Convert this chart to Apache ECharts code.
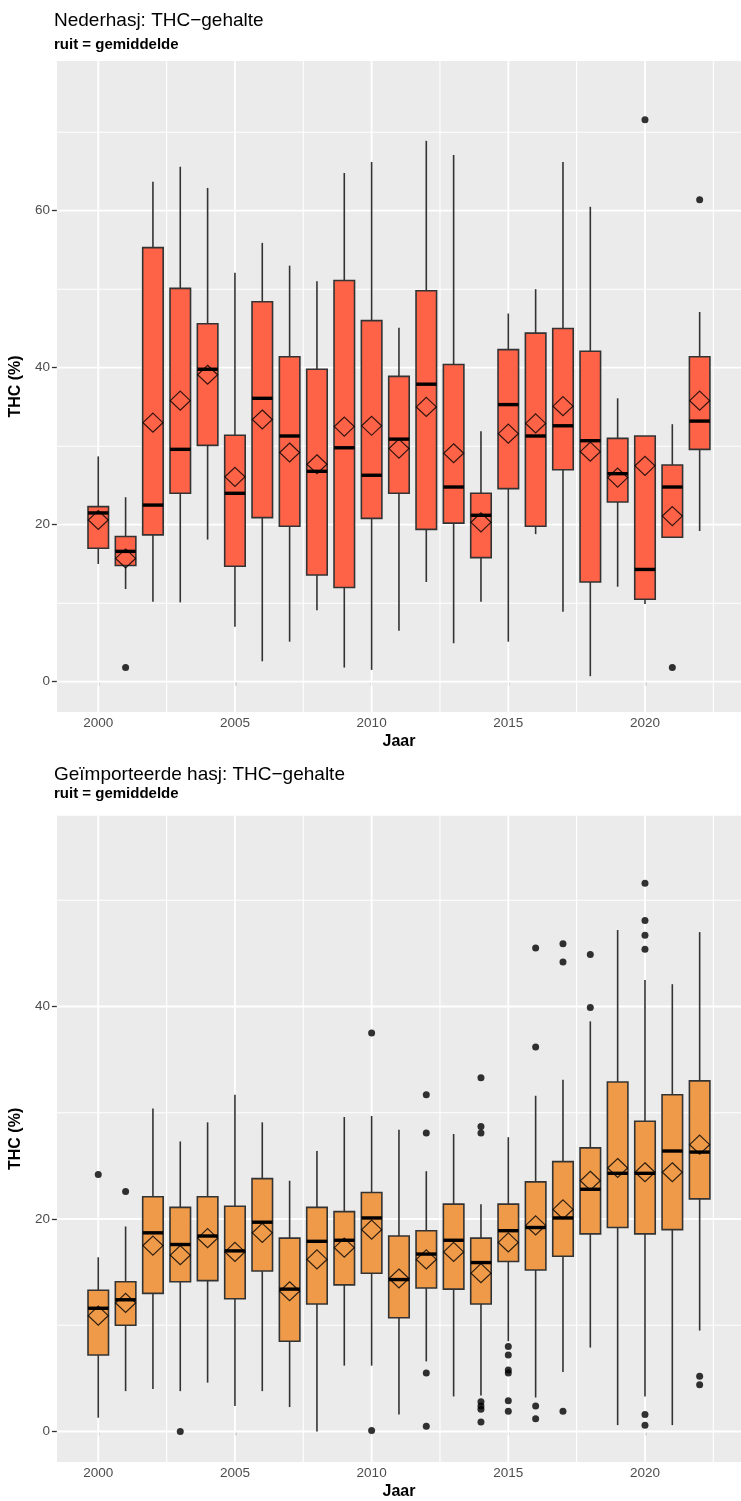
<!DOCTYPE html>
<html>
<head>
<meta charset="utf-8">
<script src="https://cdn.jsdelivr.net/npm/echarts@6/dist/echarts.min.js"></script>
<style>
html,body{margin:0;padding:0;background:#fff;}
#chart{width:741px;height:1501px;}
</style>
</head>
<body>
<div id="chart"></div>
<script>
// ---------- DATA ----------
const years = [2000,2001,2002,2003,2004,2005,2006,2007,2008,2009,2010,2011,2012,2013,2014,2015,2016,2017,2018,2019,2020,2021,2022];

// Nederhasj
const nlWhiskerLow  = [15.0,11.8,10.2,10.1,18.1, 7.0, 2.6, 5.1, 9.1, 1.8, 1.5, 6.5,12.7, 4.9,10.2, 5.1,18.8, 8.9, 0.7,12.1, 9.9,18.4,19.2];
const nlQ1          = [17.0,14.8,18.7,24.0,30.1,14.7,20.9,19.8,13.6,12.0,20.8,24.0,19.4,20.2,15.8,24.6,19.8,27.0,12.7,22.9,10.5,18.4,29.6];
const nlMedian      = [21.5,16.6,22.5,29.6,39.8,24.0,36.1,31.3,26.8,29.8,26.3,30.9,37.9,24.8,21.2,35.3,31.3,32.6,30.7,26.5,14.3,24.8,33.2];
const nlQ3          = [22.3,18.5,55.3,50.1,45.6,31.4,48.4,41.4,39.8,51.1,46.0,38.9,49.8,40.4,24.0,42.3,44.4,45.0,42.1,31.0,31.3,27.6,41.4];
const nlWhiskerHigh = [28.7,23.5,63.7,65.6,62.9,52.1,55.9,53.0,51.0,64.8,66.2,45.1,68.9,67.1,31.9,46.9,50.0,66.2,60.5,36.1,31.3,32.8,47.1];
const nlMean        = [20.6,15.7,33.0,35.8,39.1,26.1,33.4,29.2,27.7,32.5,32.6,29.7,35.0,29.1,20.3,31.6,32.9,35.1,29.3,26.0,27.5,21.1,35.8];
const nlOutliers    = [[2001,1.8],[2020,71.6],[2021,1.8],[2022,61.4]];

// Geïmporteerde hasj
const imWhiskerLow  = [ 1.3, 3.8, 4.0, 3.8, 4.6, 2.4, 3.8, 2.3, 0.0, 6.2, 6.2, 1.6, 6.6, 3.3, 3.4, 8.5, 3.2, 5.6, 7.9, 0.6, 3.3, 0.6, 9.5];
const imQ1          = [ 7.2,10.0,13.0,14.1,14.2,12.5,15.1, 8.5,12.0,13.8,14.9,10.7,13.5,13.4,12.0,16.0,15.2,16.5,18.6,19.2,18.6,19.0,21.9];
const imMedian      = [11.6,12.4,18.7,17.6,18.4,17.0,19.7,13.4,17.9,18.0,20.1,14.3,16.7,18.0,15.9,18.9,19.2,20.1,22.8,24.3,24.3,26.4,26.3];
const imQ3          = [13.3,14.1,22.1,21.1,22.1,21.2,23.8,18.2,21.1,20.7,22.5,18.4,18.9,21.4,18.2,21.4,23.5,25.4,26.7,32.9,29.2,31.7,33.0];
const imWhiskerHigh = [16.4,19.3,30.4,27.3,29.1,31.7,29.1,23.6,26.4,29.6,29.7,28.4,24.5,28.0,21.4,27.7,31.6,33.1,38.6,47.2,42.5,42.1,47.0];
const imMean        = [10.9,12.1,17.5,16.6,18.2,16.9,18.7,13.2,16.2,17.3,19.0,14.4,16.2,16.9,14.9,17.8,19.4,20.9,23.6,24.8,24.4,24.4,27.0];
const imOutliers    = [
  [2000,24.2],[2001,22.6],[2003,0.0],[2010,37.5],[2010,0.1],
  [2012,31.7],[2012,28.1],[2012,5.5],[2012,0.5],
  [2014,33.3],[2014,28.7],[2014,28.1],[2014,2.8],[2014,2.4],[2014,2.1],[2014,0.9],
  [2015,8.0],[2015,7.2],[2015,5.8],[2015,5.5],[2015,2.9],[2015,1.9],
  [2016,45.5],[2016,36.2],[2016,2.4],[2016,1.2],
  [2017,45.9],[2017,44.2],[2017,1.9],
  [2018,44.9],[2018,39.9],
  [2020,51.6],[2020,48.1],[2020,46.7],[2020,45.4],[2020,1.6],[2020,0.6],
  [2022,5.2],[2022,4.4]
];

// tick labels / grid lines
const xMajorTicks = [2000,2005,2010,2015,2020];
const xMinorTicks = [2002.5,2007.5,2012.5,2017.5,2022.5];
const nlYMajorTicks = [0,20,40,60];
const nlYMinorTicks = [10,30,50,70];
const imYMajorTicks = [0,20,40];
const imYMinorTicks = [10,30,50];

// ---------- STYLE ----------
const FONT = '"Liberation Sans", Arial, sans-serif';
const BOX_W = 0.75;
const X_MIN = 1998.4875, X_MAX = 2023.5125;
const LINE_COL = '#333333';

function rows(lo,q1,md,q3,hi){ return years.map((y,i)=>[y,lo[i],q1[i],md[i],q3[i],hi[i]]); }

function boxRenderer(fill){
  return function(params, api){
    const x = api.value(0);
    const lo = api.value(1), q1 = api.value(2), md = api.value(3), q3 = api.value(4), hi = api.value(5);
    const c = api.coord([x, hi]);
    const cx = c[0];
    const yHi = c[1], yLo = api.coord([x, lo])[1];
    const tl = api.coord([x - BOX_W/2, q3]);
    const br = api.coord([x + BOX_W/2, q1]);
    const yMd = api.coord([x, md])[1];
    return {type:'group', children:[
      {type:'line', shape:{x1:cx,y1:yHi,x2:cx,y2:tl[1]}, style:{stroke:LINE_COL,lineWidth:1.6}},
      {type:'line', shape:{x1:cx,y1:br[1],x2:cx,y2:yLo}, style:{stroke:LINE_COL,lineWidth:1.6}},
      {type:'rect', shape:{x:tl[0],y:tl[1],width:br[0]-tl[0],height:br[1]-tl[1]}, style:{fill:fill,stroke:LINE_COL,lineWidth:1.6}},
      {type:'line', shape:{x1:tl[0],y1:yMd,x2:br[0],y2:yMd}, style:{stroke:'#000000',lineWidth:3.4}}
    ]};
  };
}

function vGridRenderer(params, api){
  const cs = params.coordSys;
  const x = api.coord([api.value(0), 0])[0];
  const major = api.value(1) === 1;
  return {type:'line', shape:{x1:x,y1:cs.y,x2:x,y2:cs.y+cs.height}, style:{stroke:'#ffffff', lineWidth: major?1.8:1.1}};
}
function hGridRenderer(params, api){
  const cs = params.coordSys;
  const y = api.coord([X_MIN, api.value(1)])[1];
  const major = api.value(2) === 1;
  return {type:'line', shape:{x1:cs.x,y1:y,x2:cs.x+cs.width,y2:y}, style:{stroke:'#ffffff', lineWidth: major?1.8:1.1}};
}

function xAxisCfg(gi){
  return {
    gridIndex: gi, type:'value', min:X_MIN, max:X_MAX,
    splitLine:{show:false}, axisLine:{show:false},
    axisTick:{show:true, length:4, customValues:xMajorTicks, lineStyle:{color:LINE_COL, width:1.3}},
    axisLabel:{customValues:xMajorTicks, color:'#4D4D4D', fontSize:13.5, margin:4, fontFamily:FONT, formatter:v=>String(v)},
    name:'Jaar', nameLocation:'middle', nameGap:22,
    nameTextStyle:{fontSize:16, fontWeight:'bold', color:'#000', fontFamily:FONT}
  };
}
function yAxisCfg(gi, min, max, ticks){
  return {
    gridIndex: gi, type:'value', min:min, max:max,
    splitLine:{show:false}, axisLine:{show:false},
    axisTick:{show:true, length:5, customValues:ticks, lineStyle:{color:LINE_COL, width:1.3}},
    axisLabel:{customValues:ticks, color:'#4D4D4D', fontSize:13.5, margin:7, fontFamily:FONT, formatter:v=>String(v)},
    name:'THC (%)', nameLocation:'middle', nameGap:26, nameRotate:90,
    nameTextStyle:{fontSize:16, fontWeight:'bold', color:'#000', fontFamily:FONT}
  };
}

function panelSeries(gi, yMajor, yMinor, data, means, outliers, fill){
  const vData = xMajorTicks.map(v=>[v,1]).concat(xMinorTicks.map(v=>[v,0]));
  const hData = yMajor.map(v=>[X_MIN,v,1]).concat(yMinor.map(v=>[X_MIN,v,0]));
  return [
    {type:'custom', xAxisIndex:gi, yAxisIndex:gi, silent:true, z:1, renderItem:vGridRenderer, data:vData},
    {type:'custom', xAxisIndex:gi, yAxisIndex:gi, silent:true, z:1, renderItem:hGridRenderer, data:hData},
    {type:'custom', xAxisIndex:gi, yAxisIndex:gi, silent:true, z:2, renderItem:boxRenderer(fill),
      encode:{x:0, y:[1,2,3,4,5]}, data:data},
    {type:'scatter', xAxisIndex:gi, yAxisIndex:gi, silent:true, z:3, symbol:'circle', symbolSize:7,
      itemStyle:{color:'#000'}, data:outliers},
    {type:'scatter', xAxisIndex:gi, yAxisIndex:gi, silent:true, z:4, symbol:'diamond', symbolSize:[20,19],
      itemStyle:{color:'rgba(0,0,0,0)', borderColor:'#000', borderWidth:1.2},
      data: years.map((y,i)=>[y, means[i]])}
  ];
}

const chart = echarts.init(document.getElementById('chart'), null, {renderer:'canvas'});
chart.setOption({
  animation:false,
  backgroundColor:'#ffffff',
  textStyle:{fontFamily:FONT},
  graphic:[
    {type:'text', x:54, y:21, style:{text:'Nederhasj: THC\u2212gehalte', font:'19px ' + FONT, fill:'#000', align:'left', verticalAlign:'middle'}},
    {type:'text', x:54, y:45, style:{text:'ruit = gemiddelde', font:'bold 15px ' + FONT, fill:'#000', align:'left', verticalAlign:'middle'}},
    {type:'text', x:54, y:775, style:{text:'Geïmporteerde hasj: THC\u2212gehalte', font:'19px ' + FONT, fill:'#000', align:'left', verticalAlign:'middle'}},
    {type:'text', x:54, y:794, style:{text:'ruit = gemiddelde', font:'bold 15px ' + FONT, fill:'#000', align:'left', verticalAlign:'middle'}}
  ],
  grid:[
    {left:54, top:61, width:697, height:651, show:true, backgroundColor:'#EBEBEB', borderWidth:0},
    {left:54, top:815.7, width:697, height:650.3, show:true, backgroundColor:'#EBEBEB', borderWidth:0}
  ],
  xAxis:[xAxisCfg(0), xAxisCfg(1)],
  yAxis:[yAxisCfg(0,-3.86,79.07,nlYMajorTicks), yAxisCfg(1,-2.87,57.96,imYMajorTicks)],
  series: panelSeries(0, nlYMajorTicks, nlYMinorTicks,
            rows(nlWhiskerLow,nlQ1,nlMedian,nlQ3,nlWhiskerHigh), nlMean, nlOutliers, '#FF6347')
    .concat(panelSeries(1, imYMajorTicks, imYMinorTicks,
            rows(imWhiskerLow,imQ1,imMedian,imQ3,imWhiskerHigh), imMean, imOutliers, '#EE9A49'))
});
</script>
</body>
</html>
